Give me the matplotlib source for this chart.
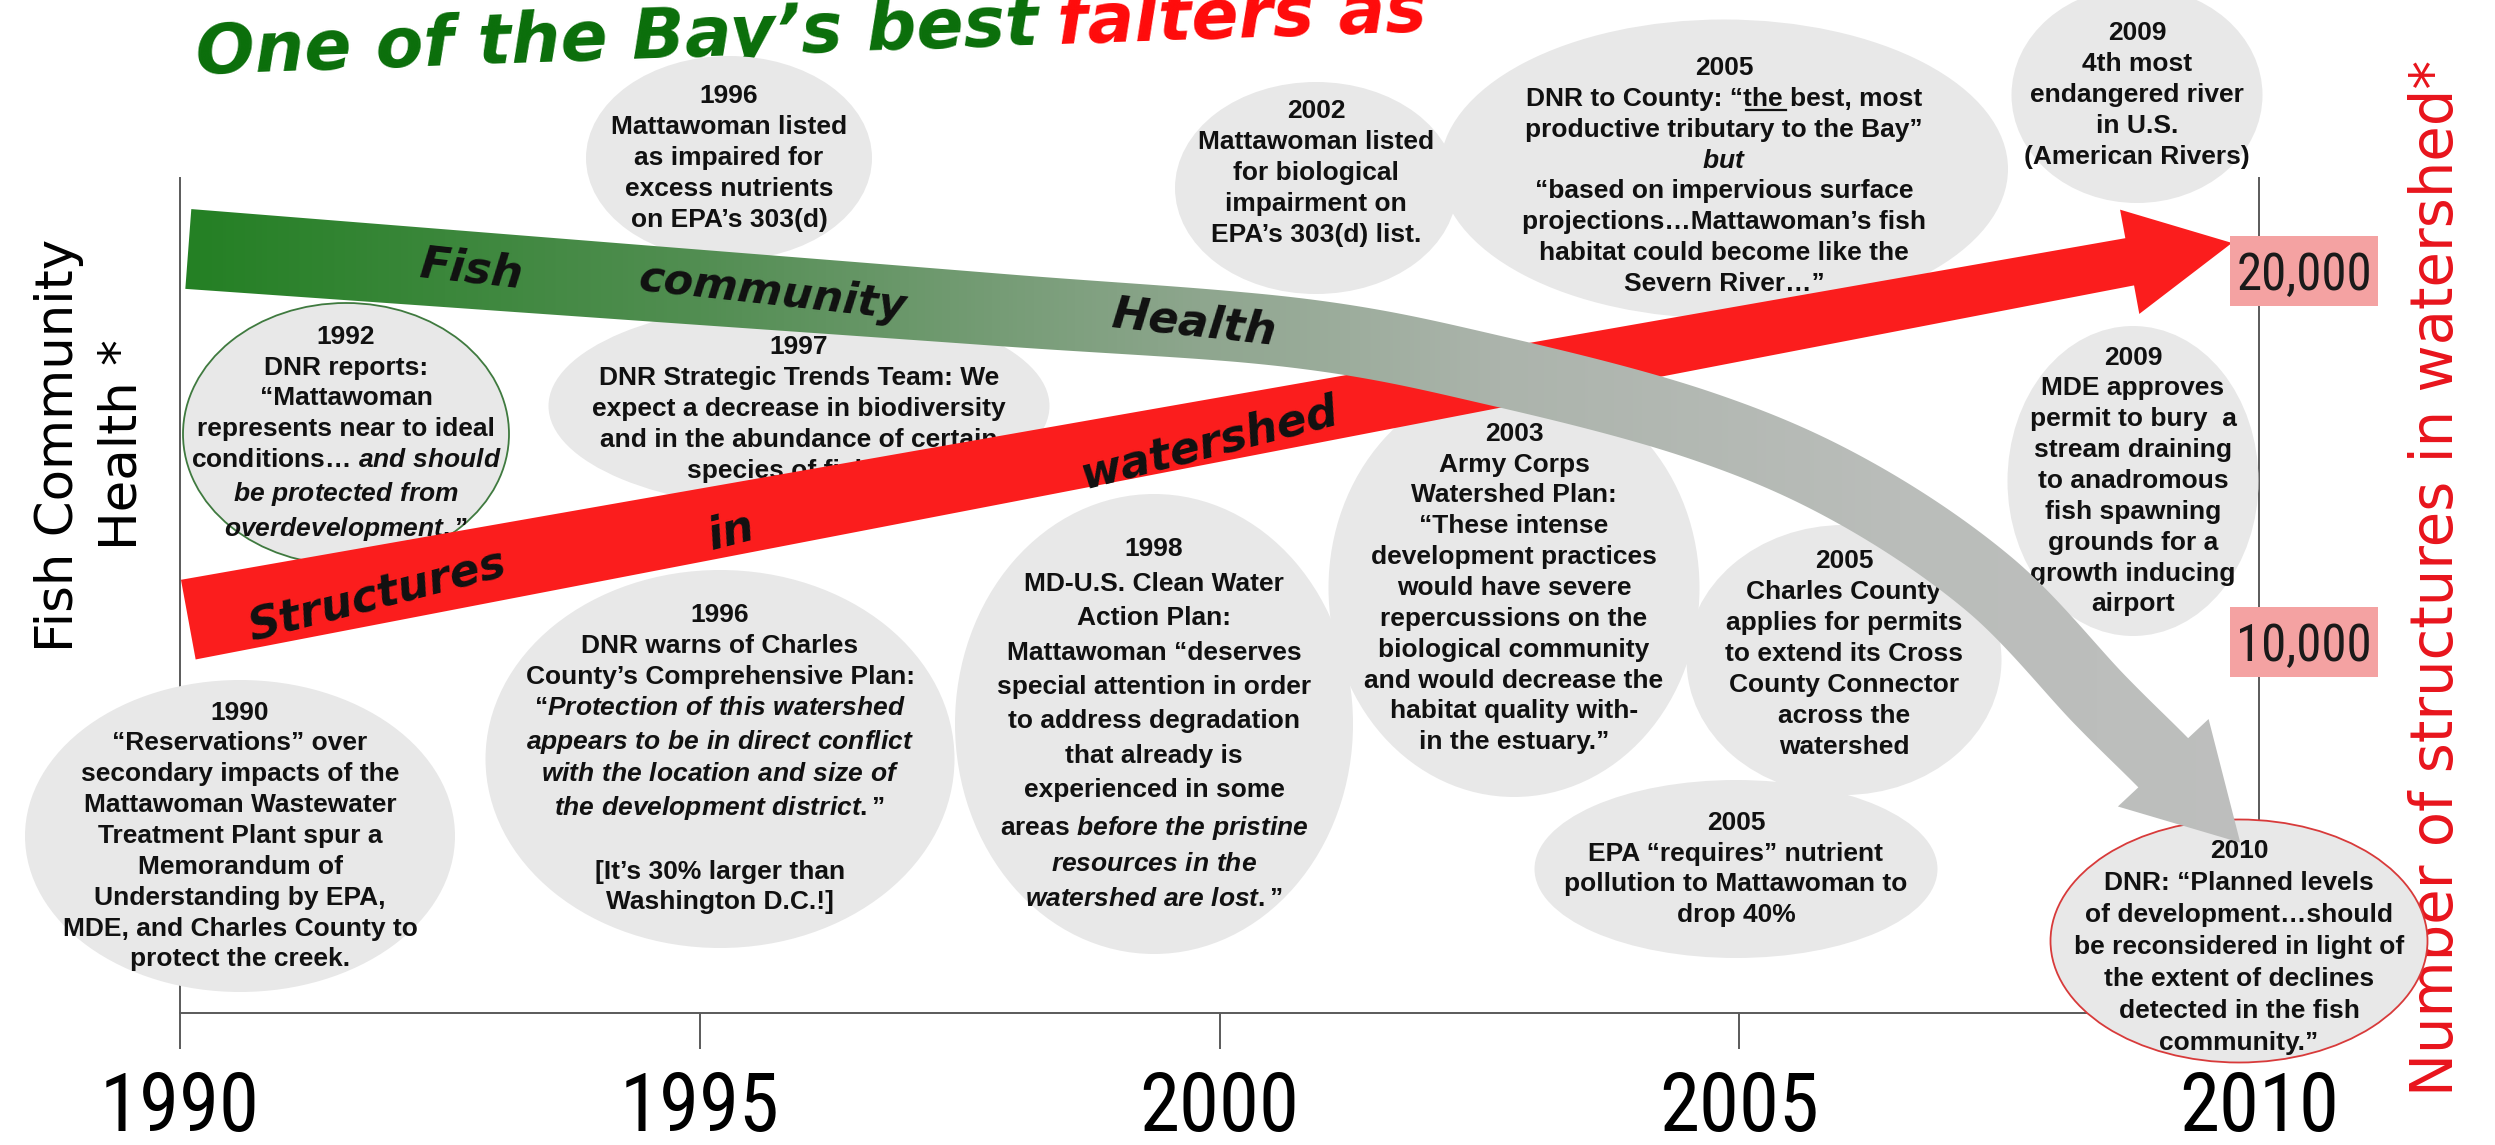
"""Mattawoman Creek timeline: fish community health vs. structures in the watershed."""

import numpy as np
import matplotlib

matplotlib.use("Agg")
import matplotlib.pyplot as plt
from matplotlib import font_manager
from matplotlib.lines import Line2D
from matplotlib.patches import Ellipse, Polygon, Rectangle

# Data
TICK_YEARS = [1990, 1995, 2000, 2005, 2010]
STRUCT_TICKS = [10000, 20000]
STRUCT_TICK_LABELS = ["10,000", "20,000"]

# structures in watershed (right axis): start of band and arrow tip
STRUCT_YEARS = [1990.08, 2009.74]
STRUCT_COUNT = [10600, 20750]

# fish community health (left axis, qualitative index 0-100), last point = arrow tip
HEALTH_YEARS = [1990.08, 1994.04, 1997.89, 2000.77, 2002.70, 2004.62,
                2006.07, 2007.41, 2008.47, 2009.10, 2009.82]
HEALTH_INDEX = [91.5, 87.8, 84.2, 81.4, 76.8, 70.4, 62.6, 51.3, 37.5, 29.7, 20.4]

HEALTH_WORDS = [("Fish", 1992.8), ("community", 1995.7), ("Health", 1999.75)]
STRUCT_WORDS = [("Structures", 1991.9), ("in", 1995.3), ("watershed", 1999.9)]


def it(s):
    """Bold italic run (mathtext)."""
    return r"$\mathit{" + s.replace(" ", r"\ ") + "}$"


EVENTS = {
    "1990": ["1990", "\u201cReservations\u201d over", "secondary impacts of the",
             "Mattawoman Wastewater", "Treatment Plant spur a", "Memorandum of",
             "Understanding by EPA,", "MDE, and Charles County to", "protect the creek."],
    "1992": ["1992", "DNR reports:", "\u201cMattawoman", "represents near to ideal",
             "conditions\u2026 " + it("and should"), it("be protected from"),
             it("overdevelopment.") + "\u201d"],
    "1996a": ["1996", "Mattawoman listed", "as impaired for", "excess nutrients",
              "on EPA\u2019s 303(d)"],
    "1996b": ["1996", "DNR warns of Charles", "County\u2019s Comprehensive Plan:",
              "\u201c" + it("Protection of this watershed"),
              it("appears to be in direct conflict"), it("with the location and size of"),
              it("the development district.") + "\u201d", "",
              "[It\u2019s 30% larger than", "Washington D.C.!]"],
    "1997": ["1997", "DNR Strategic Trends Team: We", "expect a decrease in biodiversity",
             "and in the abundance of certain", "species of fish\u2026\u201d"],
    "1998": ["1998", "MD-U.S. Clean Water", "Action Plan:", "Mattawoman \u201cdeserves",
             "special attention in order", "to address degradation", "that already is",
             "experienced in some", "areas " + it("before the pristine"),
             it("resources in the"), it("watershed are lost.") + "\u201d"],
    "2002": ["2002", "Mattawoman listed", "for biological", "impairment on",
             "EPA\u2019s 303(d) list."],
    "2003": ["2003", "Army Corps", "Watershed Plan:", "\u201cThese intense",
             "development practices", "would have severe", "repercussions on the",
             "biological community", "and would decrease the", "habitat quality with-",
             "in the estuary.\u201d"],
    "2005a": ["2005", "DNR to County: \u201cthe best, most",
              "productive tributary to the Bay\u201d", it("but"),
              "\u201cbased on impervious surface", "projections\u2026Mattawoman\u2019s fish",
              "habitat could become like the", "Severn River\u2026\u201d"],
    "2005b": ["2005", "Charles County", "applies for permits", "to extend its Cross",
              "County Connector", "across the", "watershed"],
    "2005c": ["2005", "EPA \u201crequires\u201d nutrient", "pollution to Mattawoman to",
              "drop 40%"],
    "2009a": ["2009", "4th most", "endangered river", "in U.S.", "(American Rivers)"],
    "2009b": ["2009", "MDE approves", "permit to bury  a", "stream draining",
              "to anadromous", "fish spawning", "grounds for a", "growth inducing",
              "airport"],
    "2010": ["2010", "DNR: \u201cPlanned levels", "of development\u2026should",
             "be reconsidered in light of", "the extent of declines",
             "detected in the fish", "community.\u201d"],
}

# Layout (reference pixels, origin top-left): bubble centre x, y, width, height
W, H, DPI = 2495, 1145, 100
X0, X1, Y_AXIS, Y_TOP = 180, 2259, 1013, 178
STRUCT_MAX = 22500

BUBBLES = {
    "1990": (240, 836, 430, 312),
    "1992": (346, 434, 326, 262),
    "1996a": (729, 158, 286, 204),
    "1996b": (720, 759, 469, 378),
    "1997": (799, 406, 501, 207),
    "1998": (1154, 724, 398, 460),
    "2002": (1316, 188, 282, 212),
    "2003": (1514, 588, 371, 418),
    "2005a": (1724, 169, 568, 299),
    "2005b": (1844, 660, 315, 270),
    "2005c": (1736, 869, 403, 178),
    "2009a": (2137, 95, 251, 216),
    "2009b": (2133, 481, 251, 310),
    "2010": (2239, 941, 377, 243),
}
TEXT_DY = {"2002": -15, "2005a": 7, "2005b": -6, "1997": 3, "2010": 6}
LINESPACING = {"1998": 1.55, "2010": 1.42}
BUBBLE_EDGES = {"1992": "#3f7a3f", "2010": "#d83a3a"}

BUBBLE_FILL = "#e8e8e8"
RED = "#fb1d1d"
AXIS_GREY = "#5a5a5a"
BUBBLE_PT = 19

plt.rcParams["mathtext.fontset"] = "custom"
plt.rcParams["mathtext.it"] = "Liberation Sans:italic:bold"
plt.rcParams["mathtext.rm"] = "Liberation Sans:bold"
plt.rcParams["mathtext.bf"] = "Liberation Sans:bold"


def pick_condensed():
    fonts = font_manager.fontManager.ttflist
    regular = (400, "normal", "regular", "book")
    for name in ["Liberation Sans Narrow", "Arial Narrow", "DejaVu Sans Condensed",
                 "Noto Sans Condensed", "Roboto Condensed"]:
        for f in fonts:
            if f.name == name and f.weight in regular and f.style == "normal":
                return font_manager.FontProperties(fname=f.fname)
    for f in fonts:
        if (f.stretch in ("condensed", "semi-condensed") and f.style == "normal"
                and f.weight in regular and "Sans" in f.name and "Mono" not in f.name):
            return font_manager.FontProperties(fname=f.fname)
    return font_manager.FontProperties(family="Liberation Sans")


NUM_FONT = pick_condensed()


def catmull_rom(pts, n=40):
    pts = np.asarray(pts, dtype=float)
    ext = np.vstack([2 * pts[0] - pts[1], pts, 2 * pts[-1] - pts[-2]])
    t = np.linspace(0, 1, n, endpoint=False)[:, None]
    out = []
    for i in range(1, len(ext) - 2):
        p0, p1, p2, p3 = ext[i - 1], ext[i], ext[i + 1], ext[i + 2]
        out.append(0.5 * (2 * p1 + (-p0 + p2) * t + (2 * p0 - 5 * p1 + 4 * p2 - p3) * t ** 2
                          + (-p0 + 3 * p1 - 3 * p2 + p3) * t ** 3))
    out.append(pts[-1:])
    return np.vstack(out)


def arrow_outline(center, w_start, w_end, taper_frac, head_len, head_half):
    seg = np.diff(center, axis=0)
    s = np.concatenate([[0], np.cumsum(np.hypot(seg[:, 0], seg[:, 1]))])
    base_s = s[-1] - head_len
    keep = s < base_s
    base = np.array([np.interp(base_s, s, center[:, 0]), np.interp(base_s, s, center[:, 1])])
    shaft = np.vstack([center[keep], base])
    ss = np.append(s[keep], base_s)
    frac = np.clip(ss / (taper_frac * base_s), 0, 1)
    widths = w_start + (w_end - w_start) * frac
    tang = np.gradient(shaft, axis=0)
    tang /= np.hypot(tang[:, 0], tang[:, 1])[:, None]
    nrm = np.column_stack([-tang[:, 1], tang[:, 0]])
    left = shaft + nrm * widths[:, None] / 2
    right = shaft - nrm * widths[:, None] / 2
    tip = center[-1]
    u = (tip - base) / np.hypot(*(tip - base))
    n = np.array([-u[1], u[0]])
    return np.vstack([left, base + n * head_half, tip, base - n * head_half, right[::-1]])


def point_on(center, x):
    y = np.interp(x, center[:, 0], center[:, 1])
    dy = np.gradient(center[:, 1])
    dx = np.gradient(center[:, 0])
    ang = np.degrees(np.arctan2(np.interp(x, center[:, 0], dy), np.interp(x, center[:, 0], dx)))
    return y, ang


fig = plt.figure(figsize=(W / DPI, H / DPI), dpi=DPI)
fig.patch.set_facecolor("white")
renderer = fig.canvas.get_renderer()


def text_width(text, **kw):
    t = fig.text(0, 0, text, **kw)
    w = t.get_window_extent(renderer).width
    t.remove()
    return w


def fit_size(text, fp, target_w, base=50):
    """Font size at which `text` in font `fp` is target_w pixels wide."""
    return base * target_w / text_width(text, fontproperties=fp, fontsize=base)


ax = fig.add_axes([X0 / W, 1 - Y_AXIS / H, (X1 - X0) / W, (Y_AXIS - Y_TOP) / H])
ax.set_xlim(TICK_YEARS[0], TICK_YEARS[-1])
ax.set_ylim(0, 100)
ax2 = ax.twinx()
ax2.set_ylim(0, STRUCT_MAX)

for side in ["left", "right", "bottom"]:
    ax.spines[side].set_color(AXIS_GREY)
    ax.spines[side].set_linewidth(1.4)
ax.spines["top"].set_visible(False)
for sp in ax2.spines.values():
    sp.set_visible(False)

tick_size = min(fit_size("1990", NUM_FONT, 160), 60)
ax.set_xticks(TICK_YEARS, labels=[str(y) for y in TICK_YEARS])
for lab in ax.get_xticklabels():
    lab.set_fontproperties(NUM_FONT)
    lab.set_fontsize(tick_size)
ax.tick_params(axis="x", direction="out", length=26, width=1.4, color=AXIS_GREY, pad=15)
ax.set_yticks([])
ax2.set_yticks([])

ax.set_ylabel("Fish Community\nHealth *", fontsize=37, fontfamily="DejaVu Sans",
              linespacing=1.35, va="center", ha="center")
ax.yaxis.set_label_coords((91 - X0) / (X1 - X0), (Y_AXIS - 445) / (Y_AXIS - Y_TOP))
ax2.set_ylabel("Number of structures in watershed*", fontsize=41.5, color="#e8141c",
               fontfamily="DejaVu Sans", rotation=90, va="center", ha="center")
ax2.yaxis.set_label_coords((2436 - X0) / (X1 - X0), (Y_AXIS - 578) / (Y_AXIS - Y_TOP))

# overlay in pixel coordinates for bubbles, bands and words
ov = fig.add_axes([0, 0, 1, 1], zorder=5)
ov.set_xlim(0, W)
ov.set_ylim(0, H)
ov.axis("off")

# pink "tick labels" for structures, placed at their values on the right axis
box_size = min(fit_size("20,000", NUM_FONT, 136), 44)
for v, lab in zip(STRUCT_TICKS, STRUCT_TICK_LABELS):
    yb = ax2.transData.transform((0, v))[1]
    ov.add_patch(Rectangle((2230, yb - 35), 148, 70, fc="#f4a2a2", ec="none", zorder=8))
    ov.text(2304, yb, lab, ha="center", va="center_baseline", fontproperties=NUM_FONT,
            fontsize=box_size, color="#1a1a1a", zorder=9)

bubble_text = {}
for key, lines in EVENTS.items():
    cx, cy, bw, bh = BUBBLES[key]
    edge = BUBBLE_EDGES.get(key, "none")
    ov.add_patch(Ellipse((cx, H - cy), bw, bh, fc=BUBBLE_FILL, ec=edge,
                         lw=1.3 if edge != "none" else 0, zorder=2))
    bubble_text[key] = ov.text(cx, H - cy - TEXT_DY.get(key, 0), "\n".join(lines),
                               ha="center", va="center", multialignment="center",
                               fontsize=BUBBLE_PT, fontweight="bold",
                               fontfamily="Liberation Sans",
                               linespacing=LINESPACING.get(key, 1.36),
                               color="#111111", zorder=3)

# underline "the" in the 2005 DNR quote (second line of that bubble)
bold_kw = dict(fontsize=BUBBLE_PT, fontweight="bold", fontfamily="Liberation Sans")
line2 = EVENTS["2005a"][1]
pre = line2[:line2.index("the")]
w_line = text_width(line2, **bold_kw)
w_pre = text_width(pre, **bold_kw)
w_the = text_width("the", **bold_kw)
em = BUBBLE_PT * DPI / 72
bb = bubble_text["2005a"].get_window_extent(renderer)
base2 = bb.y1 - 0.74 * em - (0.21 * em + 1.36 * 0.73 * em)
x_start = BUBBLES["2005a"][0] - w_line / 2 + w_pre + 3
ov.add_line(Line2D([x_start, x_start + w_the], [base2 - 3, base2 - 3], color="#111111",
                   lw=1.6, zorder=3))

# red band: structures in watershed
sp = ax2.transData.transform(np.column_stack([STRUCT_YEARS, STRUCT_COUNT]))
red_center = np.column_stack([np.linspace(sp[0, 0], sp[1, 0], 60),
                              np.linspace(sp[0, 1], sp[1, 1], 60)])
ov.add_patch(Polygon(arrow_outline(red_center, 81, 48, 1.0, 104, 53),
                     closed=True, fc=RED, ec="none", zorder=4))
for word, yr in STRUCT_WORDS:
    x = ax.transData.transform((yr, 0))[0]
    y, ang = point_on(red_center, x)
    ov.text(x, y - 12, word, rotation=ang + 4, rotation_mode="anchor", ha="center",
            va="center", fontsize=32, fontweight="bold", fontstyle="italic",
            fontfamily="DejaVu Sans", color="#111111", zorder=5)

# green-to-grey band: fish community health
hp = ax.transData.transform(np.column_stack([HEALTH_YEARS, HEALTH_INDEX]))
green_center = catmull_rom(hp)
outline = arrow_outline(green_center, 80, 70, 0.5, 111, 63)
clip = Polygon(outline, closed=True, fc="none", ec="none", zorder=6)
ov.add_patch(clip)
stops_x = [0, 188, 700, 1200, 1500, 1900, W]
stops_c = np.array([(36, 128, 36), (36, 128, 36), (82, 142, 82), (142, 166, 142),
                    (172, 180, 172), (186, 189, 186), (192, 192, 192)]) / 255
gx = np.linspace(0, W, 800)
grad = np.stack([np.interp(gx, stops_x, stops_c[:, k]) for k in range(3)], axis=-1)
im = ov.imshow(np.repeat(grad[None, :, :], 2, axis=0), extent=(0, W, 0, H), origin="lower",
               aspect="auto", interpolation="bilinear", zorder=6)
im.set_clip_path(clip)
for word, yr in HEALTH_WORDS:
    x = ax.transData.transform((yr, 0))[0]
    y, ang = point_on(green_center, x)
    ov.text(x, y, word, rotation=ang - 2, rotation_mode="anchor", ha="center",
            va="center", fontsize=31 if word == "community" else 32, fontweight="bold",
            fontstyle="italic", fontfamily="DejaVu Sans", color="#111111", zorder=7)
ov.set_xlim(0, W)
ov.set_ylim(0, H)

# title, cut by the top edge as in the source slide
title_kw = dict(fontsize=50, fontweight="bold", fontstyle="italic", fontfamily="DejaVu Sans")
rot = 2.0
tx, ty = 196, H - 74
ov.text(tx, ty, "One of the Bay\u2019s best", color="#0a6e0a", rotation=rot,
        rotation_mode="anchor", ha="left", va="baseline", zorder=1, **title_kw)
wpx = text_width("One of the Bay\u2019s best", **title_kw) + 20
ang = np.radians(rot)
ov.text(tx + wpx * np.cos(ang), ty + wpx * np.sin(ang), "falters as", color="#ff0a0a",
        rotation=rot, rotation_mode="anchor", ha="left", va="baseline", zorder=1, **title_kw)

fig.savefig("out.png", dpi=DPI, facecolor="white")
